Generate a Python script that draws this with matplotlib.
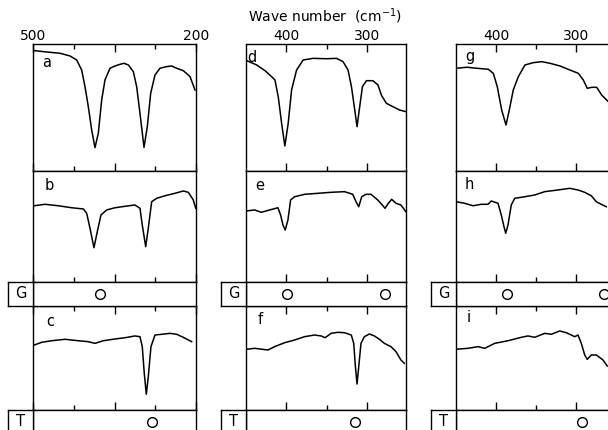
import matplotlib.pyplot as plt

# wave numbers (cm-1) and transmission (% of panel height)
wn_a = [497.5, 481, 450.3, 431.9, 419.6, 410.4, 404.3, 398.2, 392.0, 385.9, 379.8, 373.6, 367.5,
        358.3, 349.1, 339.9, 332.5, 324.5, 315.3, 309.2, 303.1, 295.7, 289.6, 283.4, 275.5, 266.3,
        254.0, 244.8, 235.6, 223.3, 211.0, 201.8]
t_a = [94.8, 94.0, 92.7, 90.6, 87.4, 79.5, 66.4, 50.7, 32.3, 18.4, 29.7, 55.9, 71.7,
       80.9, 82.7, 84.0, 84.8, 83.5, 78.2, 66.4, 45.4, 18.6, 34.9, 61.2, 75.6, 80.9,
       82.2, 82.7, 80.9, 79.0, 74.3, 63.8]

wn_b = [497.6, 477.9, 453.4, 428.8, 407.4, 401.2, 395.1, 387.8, 381.7, 374.9, 364.4, 349.1, 330.7,
        312.4, 303.1, 298.9, 292.6, 287.8, 281.6, 272.4, 257.1, 238.7, 223.4, 214.2, 205.0, 200.5]
t_b = [68.7, 70.0, 68.7, 66.9, 65.8, 61.9, 48.4, 30.9, 45.3, 60.4, 64.9, 66.9, 68.2,
       69.4, 66.4, 51.4, 31.8, 48.4, 72.3, 75.4, 77.7, 79.9, 82.0, 80.8, 73.9, 66.4]

wn_c = [497.6, 484.0, 465.6, 441.1, 416.6, 398.2, 385.9, 370.6, 349.1, 330.7, 312.3, 303.1, 298.9,
        295.2, 291.5, 287.8, 282.9, 275.5, 263.2, 247.9, 235.6, 223.4, 208.0]
t_c = [62.5, 65.1, 66.6, 68.0, 66.6, 65.7, 64.1, 66.6, 68.3, 69.5, 71.2, 70.5, 60.9,
       35.3, 15.1, 32.0, 60.9, 72.1, 72.8, 73.7, 72.8, 69.9, 65.7]

wn_d = [449.1, 436.8, 426.5, 418.3, 414.2, 410.1, 405.9, 401.9, 397.8, 393.6, 387.4, 379.3, 366.9,
        350.4, 338.0, 329.9, 323.7, 319.5, 315.4, 312.6, 309.3, 305.9, 301.0, 292.8, 286.7, 282.5,
        276.3, 268.1, 259.9, 252.0]
t_d = [86.9, 83.5, 79.0, 74.3, 71.7, 58.5, 37.4, 19.7, 37.4, 63.8, 79.5, 87.4, 88.7,
       88.4, 88.7, 86.1, 79.5, 66.4, 48.0, 34.9, 50.6, 66.4, 71.1, 71.1, 67.7, 59.8,
       53.3, 50.6, 48.0, 46.7]

wn_e = [449.6, 439.3, 431.1, 420.7, 410.5, 407.2, 404.3, 401.5, 398.1, 394.8, 389.9, 377.5, 361.1,
        344.7, 328.1, 317.9, 313.8, 310.5, 306.8, 301.5, 295.3, 287.0, 282.1, 278.0, 273.8, 269.7,
        264.4, 258.3, 252.1]
t_e = [64.0, 64.9, 62.8, 64.9, 66.9, 60.4, 51.4, 46.8, 55.9, 73.9, 76.8, 79.0, 79.9,
       80.8, 81.4, 79.0, 72.3, 67.8, 76.8, 79.0, 79.0, 73.9, 70.0, 66.4, 70.9, 74.5,
       70.9, 69.4, 63.3]

wn_f = [449.6, 439.3, 422.8, 414.6, 402.2, 389.9, 377.5, 365.2, 357.0, 352.1, 344.7, 336.4, 328.1,
        319.7, 316.7, 314.6, 312.6, 310.5, 307.7, 303.5, 297.3, 291.1, 284.9, 278.8, 270.6, 264.4,
        258.3, 254.1]
t_f = [58.4, 59.3, 57.7, 60.9, 64.7, 67.3, 70.5, 72.1, 71.2, 69.5, 73.7, 74.7, 74.3,
       72.1, 64.1, 41.6, 25.0, 41.6, 64.1, 70.5, 73.1, 71.2, 68.0, 64.1, 60.9, 56.1,
       48.1, 44.9]

wn_g = [449.1, 436.6, 424.1, 409.6, 403.4, 398.4, 392.9, 387.5, 383.4, 378.4, 372.1, 363.8, 353.4,
        342.9, 332.5, 320.0, 307.5, 297.1, 290.9, 285.9, 280.4, 274.1, 267.9, 259.6]
t_g = [80.9, 81.7, 80.9, 80.1, 76.9, 66.4, 48.0, 36.2, 48.0, 63.8, 74.3, 83.5, 85.3,
       86.1, 84.8, 82.7, 79.5, 76.9, 71.7, 65.1, 65.9, 65.9, 59.8, 54.6]

wn_h = [449.6, 439.1, 428.8, 418.4, 410.0, 405.9, 397.5, 393.4, 390.0, 387.9, 385.0, 380.9, 376.6,
        364.1, 351.6, 339.1, 322.5, 307.9, 297.5, 289.1, 280.9, 274.6, 268.4, 262.1]
t_h = [72.3, 70.9, 68.7, 70.0, 70.0, 73.0, 70.9, 60.4, 49.8, 43.9, 51.4, 69.4, 75.4,
       76.8, 78.4, 81.4, 82.9, 84.4, 82.9, 80.8, 77.7, 72.3, 70.0, 67.8]

wn_i = [450.0, 435.0, 422.5, 414.1, 401.6, 385.0, 368.4, 360.0, 351.6, 339.1, 330.9, 320.4, 312.1,
        305.9, 301.6, 297.5, 293.4, 289.1, 285.9, 280.9, 274.6, 266.3, 260.9]
t_i = [58.4, 59.3, 60.9, 59.3, 64.1, 66.6, 69.9, 71.2, 69.9, 73.7, 72.8, 76.0, 74.3,
       72.1, 70.5, 72.1, 64.1, 52.9, 48.7, 52.9, 52.9, 48.1, 42.3]

# open circles in the G and T strips
g_marks = [[377], [399, 278], [386, 265]]
t_marks = [[281], [315], [292]]

spectra = [[("a", wn_a, t_a), ("b", wn_b, t_b), ("c", wn_c, t_c)],
           [("d", wn_d, t_d), ("e", wn_e, t_e), ("f", wn_f, t_f)],
           [("g", wn_g, t_g), ("h", wn_h, t_h), ("i", wn_i, t_i)]]

W, H = 608, 430
fig = plt.figure(figsize=(6.08, 4.30), dpi=100)
plt.rcParams['font.family'] = 'DejaVu Sans'


def box(x0, y0, x1, y1):
    return [x0 / W, 1 - y1 / H, (x1 - x0) / W, (y1 - y0) / H]


col_px = [(33, 196), (246, 406), (456, 616)]
col_lim = [(500, 200), (450, 252), (450, 250)]
col_major = [[500, 350, 200], [400, 300], [400, 300]]
col_minor = [[425, 275], [350], [350]]
col_lab = [["500", "", "200"], ["400", "300"], ["400", "300"]]
rows = [(44, 171), (171, 282), (306, 410)]
strips = [("G", 282, 306), ("T", 410, 434)]
letter_pos = [[(0.085, 0.856), (0.10, 0.868), (0.104, 0.85)],
              [(0.036, 0.895), (0.086, 0.868), (0.086, 0.875)],
              [(0.088, 0.898), (0.086, 0.874), (0.08, 0.885)]]

for ci in range(3):
    x0, x1 = col_px[ci]
    for ri in range(3):
        y0, y1 = rows[ri]
        ax = fig.add_axes(box(x0, y0, x1, y1))
        letter, wn, tr = spectra[ci][ri]
        ax.plot(wn, tr, color="black", lw=1.1)
        ax.set_xlim(col_lim[ci])
        ax.set_ylim(0, 100)
        ax.set_yticks([])
        ax.set_xticks(col_major[ci])
        ax.set_xticks(col_minor[ci], minor=True)
        ax.tick_params(axis="x", which="both", direction="in", width=1.0,
                       top=(ri != 1), bottom=True, labelbottom=False,
                       labeltop=(ri == 0), pad=0.5, labelsize=10)
        ax.tick_params(axis="x", which="major", length=6)
        ax.tick_params(axis="x", which="minor", length=3.5)
        if ri == 0:
            ax.set_xticklabels(col_lab[ci])
        for s in ax.spines.values():
            s.set_linewidth(1.0)
        lx, ly = letter_pos[ci][ri]
        ax.text(lx, ly, letter, transform=ax.transAxes, ha="center",
                va="center", fontsize=10.5)

    for (name, y0, y1), marks in zip(strips, [g_marks[ci], t_marks[ci]]):
        sax = fig.add_axes(box(x0, y0, x1, y1))
        sax.set_xlim(col_lim[ci])
        sax.set_ylim(0, 1)
        sax.set_xticks([])
        sax.set_yticks([])
        sax.plot(marks, [0.5] * len(marks), "o", mfc="white", mec="black",
                 ms=7, mew=1.0)
        lax = fig.add_axes(box(x0 - 25, y0, x0, y1))
        lax.set_xticks([])
        lax.set_yticks([])
        lax.text(0.5, 0.5, name, ha="center", va="center", fontsize=10.5,
                 transform=lax.transAxes)
        for a in (sax, lax):
            for s in a.spines.values():
                s.set_linewidth(1.0)

fig.text(325 / W, 1 - 16 / H, "Wave number  (cm$^{-1}$)", ha="center",
         va="center", fontsize=10)

fig.savefig("out.png", dpi=100)
